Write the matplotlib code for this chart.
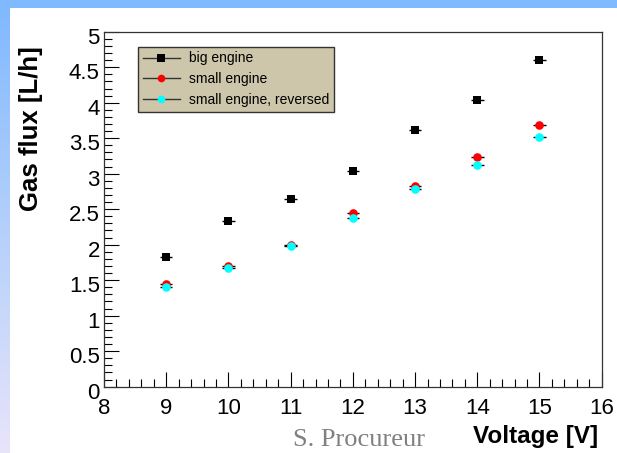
import numpy as np
import matplotlib
matplotlib.use("Agg")
import matplotlib.pyplot as plt
import matplotlib.transforms as mtransforms
from matplotlib.lines import Line2D
from matplotlib.ticker import MultipleLocator, FuncFormatter

# ── Data ─────────────────────────────────────────────────────────────────────
voltage = [9, 10, 11, 12, 13, 14, 15]
big_engine = [1.82, 2.33, 2.64, 3.04, 3.61, 4.04, 4.60]
small_engine = [1.44, 1.70, 1.99, 2.45, 2.82, 3.23, 3.69]
small_reversed = [1.41, 1.67, 1.98, 2.38, 2.78, 3.12, 3.52]
voltage_err = [0.1] * 7

series = [
    ("big engine", big_engine, "black", "s"),
    ("small engine", small_engine, "#ff0000", "o"),
    ("small engine, reversed", small_reversed, "#00ffff", "o"),
]

plt.rcParams["font.family"] = ["Liberation Sans", "DejaVu Sans"]

fig = plt.figure(figsize=(6.17, 4.53), dpi=100)
fig.patch.set_facecolor("white")

# slide background: blue band on top, gradient strip on the left
bg = fig.add_axes([0, 0, 1, 1], zorder=-5)
bg.set_xlim(0, 617)
bg.set_ylim(453, 0)
bg.axis("off")
grad = np.linspace(0, 1, 256)[:, None]
cmap = matplotlib.colors.LinearSegmentedColormap.from_list(
    "slide", ["#7fb8ff", "#b4d0fb", "#e8e4fa"])
bg.imshow(grad, cmap=cmap, aspect="auto", extent=(0, 9.5, 453, 0))
bg.add_patch(plt.Rectangle((0, 0), 617, 7.5, color="#7fb9ff", lw=0))

ax = fig.add_axes([0.1686, 0.1464, 0.8066, 0.7836])
for label, vals, col, mk in series:
    ax.errorbar(voltage, vals, xerr=voltage_err, fmt=mk, color=col,
                ecolor="black", elinewidth=1.0, capsize=2.5, capthick=1.0,
                markersize=6.2, markeredgewidth=0, zorder=3)

ax.set_xlim(8, 16)
ax.set_ylim(0, 5)
ax.xaxis.set_major_locator(MultipleLocator(1))
ax.xaxis.set_minor_locator(MultipleLocator(0.2))
ax.yaxis.set_major_locator(MultipleLocator(0.5))
ax.yaxis.set_minor_locator(MultipleLocator(0.1))
ax.yaxis.set_major_formatter(FuncFormatter(lambda v, p: f"{v:g}"))
ax.tick_params(which="both", direction="in", top=False, right=False,
               labelsize=16, color="black")
ax.tick_params(which="major", length=11, width=0.8)
ax.tick_params(which="minor", length=5.5, width=0.8)
ax.tick_params(axis="x", which="major", pad=8)
ax.tick_params(axis="y", which="major", pad=3)
for sp in ax.spines.values():
    sp.set_linewidth(0.9)
    sp.set_color("#333333")

# ROOT draws the y labels a little below their ticks
shift = mtransforms.ScaledTranslation(0, -3 / 72, fig.dpi_scale_trans)
for t in ax.get_yticklabels():
    t.set_transform(t.get_transform() + shift)

ax.set_ylabel("Gas flux [L/h]", fontsize=18.5, fontweight="bold")
ax.yaxis.set_label_coords(-0.123, 0.726)
ax.set_xlabel("Voltage [V]", fontsize=17.5, fontweight="bold")
ax.xaxis.set_label_coords(0.9926, -0.108)
ax.xaxis.label.set_horizontalalignment("right")

fig.text(0.582, 0.0155, "S. Procureur", fontsize=19, color="#808080",
         family=["Liberation Serif", "DejaVu Serif"], ha="center",
         va="baseline")

handles = [Line2D([], [], color="#333333", lw=1, marker=mk, markersize=5.5,
                  markerfacecolor=col, markeredgewidth=0)
           for _, _, col, mk in series]
leg = ax.legend(handles, [s[0] for s in series], loc="upper left",
                bbox_to_anchor=(0.068, 0.958), fontsize=10,
                frameon=True, fancybox=False, framealpha=1,
                facecolor="#cdc6aa", edgecolor="#333333",
                handlelength=2.7, handletextpad=0.6, borderpad=0.35,
                labelspacing=0.48, borderaxespad=0)
leg.get_frame().set_linewidth(1.0)

fig.savefig("out.png", dpi=100)
